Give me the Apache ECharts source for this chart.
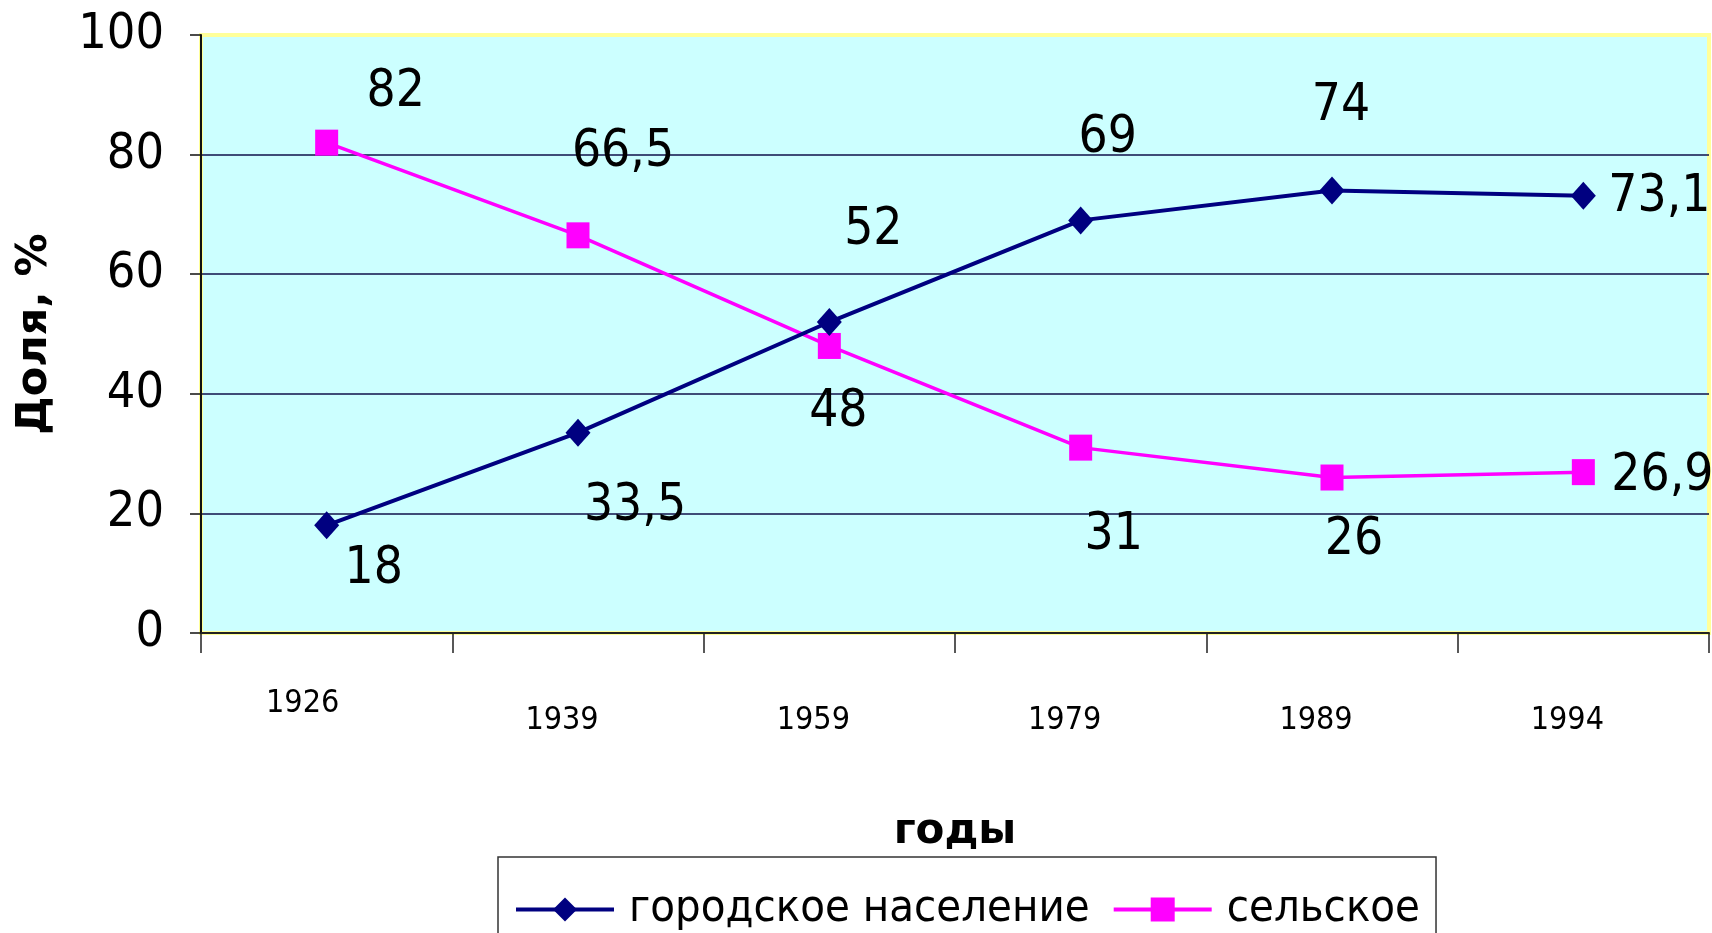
<!DOCTYPE html>
<html>
<head>
<meta charset="utf-8">
<script src="https://cdn.jsdelivr.net/npm/echarts@6/dist/echarts.min.js"></script>
<style>html,body{margin:0;padding:0;background:#fff;}#c{width:1712px;height:933px;}</style>
</head>
<body>
<div id="c"></div>
<script>
const categories = ['1926', '1939', '1959', '1979', '1989', '1994'];
const urban = [18, 33.5, 52, 69, 74, 73.1];
const rural = [82, 66.5, 48, 31, 26, 26.9];
const yMin = 0, yMax = 100, yInterval = 20;
const seriesNames = ['городское население', 'сельское'];
const axisNames = { x: 'годы', y: 'Доля, %' };

// label placement (style, not data)
const urbanLabelOffsets = [[47, 44], [57, 74], [44, -91], [27, -82], [9, -84], [76, 2]];
const ruralLabelOffsets = [[69, -50], [45, -83], [9, 67], [33, 88], [22, 63], [79, 5]];

const NARROW = "'Liberation Sans Narrow', 'DejaVu Sans Condensed', 'Arial Narrow', sans-serif";
const BOLD = "'DejaVu Sans', Verdana, sans-serif";

function fmt(v) { return String(v).replace('.', ','); }
function buildData(vals, offs) {
  return vals.map((v, i) => ({ value: v, label: { offset: offs[i] } }));
}

const chart = echarts.init(document.getElementById('c'), null, { renderer: 'canvas' });
chart.setOption({
  backgroundColor: '#ffffff',
  animation: false,
  grid: {
    left: 201, right: 3, top: 35, bottom: 300,
    show: true, backgroundColor: '#CCFFFF', borderColor: '#FFFF99', borderWidth: 4
  },
  legend: {
    left: 498, top: 857,
    padding: [30, 16, 40, 16],
    itemGap: 22, itemWidth: 98, itemHeight: 30,
    backgroundColor: '#ffffff', borderColor: '#333', borderWidth: 1.5,
    lineStyle: { width: 4 },
    textStyle: { fontFamily: NARROW, fontSize: 45, color: '#000', padding: [0, 0, 0, 10] },
    data: seriesNames
  },
  xAxis: {
    type: 'category',
    data: categories,
    boundaryGap: true,
    name: axisNames.x,
    nameLocation: 'middle',
    nameGap: 178,
    nameTextStyle: { fontFamily: BOLD, fontWeight: 'bold', fontSize: 42, color: '#000' },
    axisLine: { lineStyle: { color: '#222', width: 2 } },
    axisTick: { show: true, length: 20, lineStyle: { color: '#222', width: 1.5 } },
    axisLabel: {
      interval: 0, margin: 40, color: '#000',
      fontFamily: NARROW, fontSize: 32,
      formatter: (v, i) => (i === 0 ? '{a|' + v + '}' : '{b|' + v + '}'),
      rich: {
        a: { fontFamily: NARROW, fontSize: 32, lineHeight: 62, padding: [0, 48, 0, 0] },
        b: { fontFamily: NARROW, fontSize: 32, lineHeight: 96, padding: [0, 32, 0, 0] }
      }
    },
    splitLine: { show: false }
  },
  yAxis: {
    type: 'value',
    min: yMin, max: yMax, interval: yInterval,
    name: axisNames.y,
    nameLocation: 'middle',
    nameGap: 145,
    nameTextStyle: { fontFamily: BOLD, fontWeight: 'bold', fontSize: 43, color: '#000' },
    axisLine: { show: true, lineStyle: { color: '#111', width: 2 } },
    axisTick: { show: true, length: 11, lineStyle: { color: '#111', width: 1.5 } },
    axisLabel: { margin: 37, color: '#000', fontFamily: NARROW, fontSize: 50 },
    splitLine: { show: true, showMinLine: false, showMaxLine: false, lineStyle: { color: '#10104a', width: 1.5 } }
  },
  series: [
    {
      name: seriesNames[0],
      type: 'line',
      data: buildData(urban, urbanLabelOffsets),
      symbol: 'diamond', symbolSize: [25, 28],
      lineStyle: { color: '#000080', width: 4 },
      itemStyle: { color: '#000080' },
      label: {
        show: true, position: 'inside', color: '#000',
        fontFamily: NARROW, fontSize: 51,
        formatter: p => fmt(p.value)
      },
      z: 3
    },
    {
      name: seriesNames[1],
      type: 'line',
      data: buildData(rural, ruralLabelOffsets),
      symbol: 'rect', symbolSize: [23, 26],
      lineStyle: { color: '#FF00FF', width: 3.5 },
      itemStyle: { color: '#FF00FF' },
      label: {
        show: true, position: 'inside', color: '#000',
        fontFamily: NARROW, fontSize: 51,
        formatter: p => fmt(p.value)
      },
      z: 2
    }
  ]
});
</script>
</body>
</html>
